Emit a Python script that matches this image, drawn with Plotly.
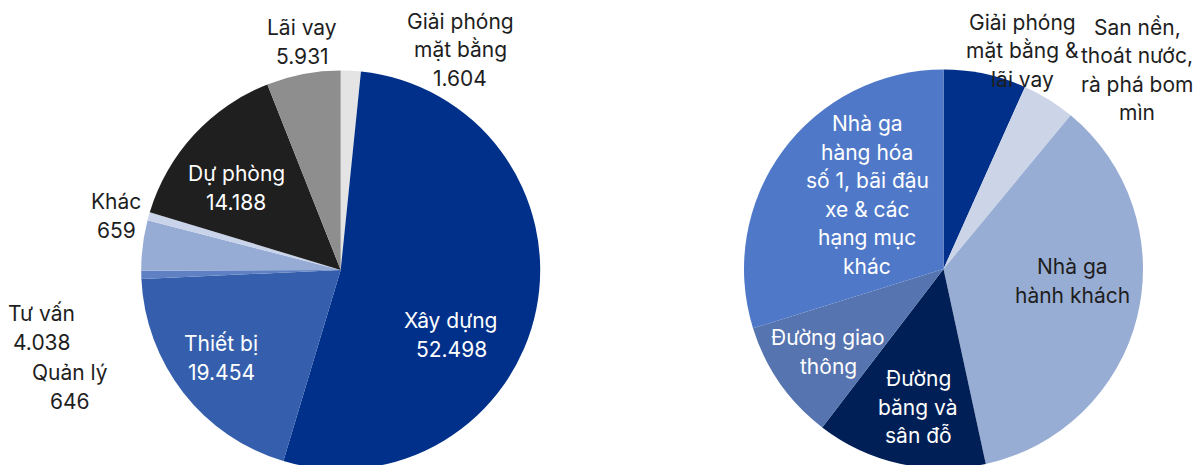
import plotly.graph_objects as go

# Cơ cấu tổng mức đầu tư (tỷ đồng) — biểu đồ trái
left_labels = ["Giải phóng<br>mặt bằng", "Xây dựng", "Thiết bị", "Quản lý",
               "Tư vấn", "Khác", "Dự phòng", "Lãi vay"]
left_values = [1604, 52498, 19454, 646, 4038, 659, 14188, 5931]
left_colors = ["#E4E4E4", "#00308A", "#355FAD", "#5F80C2",
               "#97ACD5", "#C9D4EA", "#1F1F1F", "#8E8E8E"]

# Cơ cấu chi phí xây dựng (%) — biểu đồ phải
right_labels = ["Giải phóng<br>mặt bằng &<br>lãi vay",
                "San nền,<br>thoát nước,<br>rà phá bom<br>mìn",
                "Nhà ga<br>hành khách",
                "Đường<br>băng và<br>sân đỗ",
                "Đường giao<br>thông",
                "Nhà ga<br>hàng hóa<br>số 1, bãi đậu<br>xe & các<br>hạng mục<br>khác"]
right_values = [6.7, 4.3, 35.6, 13.8, 9.8, 29.8]
right_colors = ["#00308A", "#CCD5E8", "#98ADD4", "#001F56", "#5574B0", "#4F79C8"]

W, H = 1199, 480
FONT = "Inter"
FONT_SIZE = 21
LINE_GAP = 28.4
DARK = "#1E1E1E"


def px_x(x):
    return x / W


def px_y(y):
    return (H - y) / H


def fmt(v):
    return f"{v:,}".replace(",", ".")


fig = go.Figure()

fig.add_trace(go.Pie(
    labels=[l.replace("<br>", " ") for l in left_labels], values=left_values,
    sort=False, direction="clockwise", rotation=0,
    marker=dict(colors=left_colors, line=dict(width=0)),
    textinfo="none", hoverinfo="label+value",
    domain=dict(x=[px_x(141.2), px_x(540.2)], y=[px_y(469.5), px_y(70.5)]),
))

fig.add_trace(go.Pie(
    labels=[l.replace("<br>", " ") for l in right_labels], values=right_values,
    sort=False, direction="clockwise", rotation=0,
    marker=dict(colors=right_colors, line=dict(width=0)),
    textinfo="none", hoverinfo="label+percent",
    domain=dict(x=[px_x(744.0), px_x(1143.0)], y=[px_y(468.5), px_y(69.5)]),
))

# label block centres (pixels) and text colours
left_pos = [(460, 50), (451, 335), (221, 358), (70, 387),
            (42, 328), (116, 216), (236, 188), (302, 42)]
left_txt = ["dark", "white", "white", "dark", "dark", "dark", "white", "dark"]

right_pos = [(1022, 51), (1137, 70), (1072, 281), (918, 407), (828, 352), (867, 195)]
right_txt = ["dark", "dark", "dark", "white", "white", "white"]

annotations = []


def add_block(text, x, y, colour):
    lines = text.split("<br>")
    n = len(lines)
    for i, line in enumerate(lines):
        yy = y + (i - (n - 1) / 2) * LINE_GAP
        annotations.append(dict(
            text=line, x=px_x(x), y=px_y(yy),
            xref="paper", yref="paper", xanchor="center", yanchor="middle",
            showarrow=False, align="center",
            font=dict(family=FONT, size=FONT_SIZE,
                      color="white" if colour == "white" else DARK),
        ))


for lab, val, (x, y), c in zip(left_labels, left_values, left_pos, left_txt):
    add_block(f"{lab}<br>{fmt(val)}", x, y, c)
for lab, (x, y), c in zip(right_labels, right_pos, right_txt):
    add_block(lab, x, y, c)

fig.update_layout(
    width=W, height=H,
    margin=dict(l=0, r=0, t=0, b=0),
    paper_bgcolor="white", plot_bgcolor="white",
    showlegend=False,
    annotations=annotations,
    font=dict(family=FONT),
)

fig.write_html(
    "out.html",
    post_script=("document.body.style.margin='0';"
                 "document.body.style.overflow='hidden';"
                 "document.documentElement.style.overflow='hidden';"),
)
